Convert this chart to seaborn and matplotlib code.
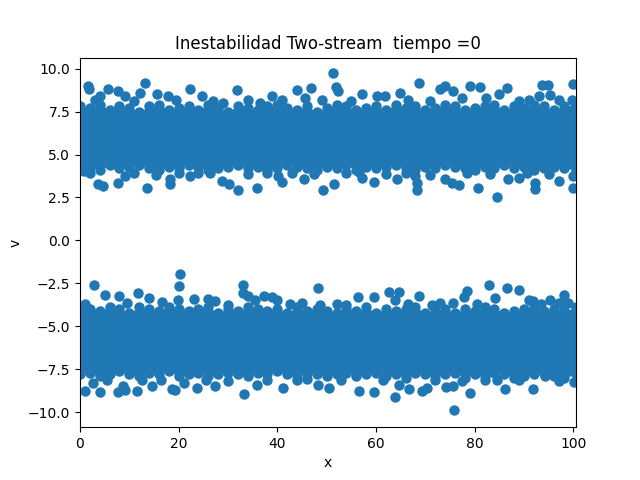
import numpy as np
import pandas as pd
import matplotlib
matplotlib.use("Agg")
import matplotlib.pyplot as plt
import seaborn as sns

# ---- data ----
# dense core of each beam: centre of the outermost markers along x
edge_x = [0, 2, 4, 6, 8, 10, 12, 14, 16, 18, 20, 22, 24, 26, 28, 30, 32, 34, 36, 38,
          40, 42, 44, 46, 48, 50, 52, 54, 56, 58, 60, 62, 64, 66, 68, 70, 72, 74, 76, 78,
          80, 82, 84, 86, 88, 90, 92, 94, 96, 98, 100.5]
top_hi = [7.8, 7.7, 7.9, 7.6, 7.8, 7.7, 7.5, 7.8, 7.9, 7.6, 7.7, 7.8, 7.6, 7.9, 7.7, 7.5, 7.8,
          7.7, 7.6, 7.8, 7.9, 7.7, 7.6, 7.8, 7.5, 7.7, 7.9, 7.8, 7.6, 7.7, 7.8, 7.6, 7.9, 7.7,
          7.8, 7.6, 7.7, 7.9, 7.8, 7.6, 7.7, 7.8, 7.9, 7.6, 7.8, 7.7, 7.9, 7.8, 7.6, 7.8, 7.9]
top_lo = [4.2, 4.3, 4.1, 4.4, 4.2, 4.3, 4.4, 4.2, 4.1, 4.3, 4.2, 4.4, 4.3, 4.1, 4.2, 4.3, 4.4,
          4.2, 4.3, 4.1, 4.2, 4.4, 4.3, 4.2, 4.1, 4.3, 4.2, 4.4, 4.1, 4.3, 4.2, 4.3, 4.4, 4.2,
          4.1, 4.3, 4.2, 4.4, 4.3, 4.2, 4.1, 4.3, 4.2, 4.4, 4.2, 4.3, 4.1, 4.2, 4.3, 4.2, 4.1]
bot_hi = [-3.9, -4.0, -4.1, -3.9, -4.0, -4.2, -3.9, -4.0, -4.1, -3.9, -4.0, -4.1, -4.0, -3.9,
          -4.2, -4.0, -4.1, -3.9, -4.0, -4.1, -4.0, -4.2, -3.9, -4.1, -4.0, -4.1, -4.2, -4.0,
          -4.1, -3.9, -4.2, -4.0, -4.1, -4.0, -3.9, -4.2, -4.1, -4.0, -4.2, -4.0, -4.1, -3.9,
          -4.0, -4.2, -4.1, -4.0, -3.9, -4.1, -4.0, -4.1, -3.9]
bot_lo = [-7.8, -7.7, -7.9, -7.8, -7.6, -7.8, -7.9, -7.7, -7.8, -7.6, -7.9, -7.8, -7.7, -7.9,
          -7.8, -7.7, -7.8, -7.9, -7.7, -7.8, -7.6, -7.8, -7.9, -7.7, -7.8, -7.9, -7.8, -7.7,
          -7.9, -7.8, -7.7, -7.9, -7.8, -8.0, -7.7, -7.8, -7.9, -7.8, -7.7, -8.0, -7.8, -7.9,
          -7.7, -7.8, -8.0, -7.9, -7.8, -7.7, -7.9, -8.0, -7.8]

# scattered particles outside the dense core
top_up_x = [1.7, 1.8, 5.7, 7.8, 13.2, 12.2, 15.6, 22.3, 17.9, 31.8, 43.9, 46.9, 51.2, 51.8,
            52.2, 3.0, 4.1, 9.1, 24.7, 38.9, 45.6, 68.8, 64.9, 73.0, 74.0, 75.7, 79.0, 81.1,
            86.5, 84.9, 93.6, 94.9, 99.9, 95.3, 93.0, 57.1, 60.2, 61.9, 82.2, 99.7,
            27, 34, 36.5, 41, 49, 55, 66.5, 71, 77.5, 89, 91, 97, 11, 19.5, 29]
top_up_v = [9.0, 8.8, 8.8, 8.7, 9.14, 8.6, 8.55, 8.8, 8.4, 8.75, 8.75, 8.86, 9.72, 8.94,
            8.67, 8.2, 8.4, 8.4, 8.4, 8.4, 8.3, 9.19, 8.6, 8.8, 9.0, 8.7, 8.96, 8.9,
            8.86, 8.5, 9.04, 9.04, 9.1, 8.47, 8.41, 8.5, 8.4, 8.4, 8.3, 8.2,
            8.1, 8.2, 8.0, 8.15, 8.2, 8.1, 8.2, 8.1, 8.3, 8.1, 8.2, 8.15, 8.1, 8.2, 8.0]
top_dn_x = [0.9, 3.7, 4.7, 7.8, 9.1, 13.5, 18.3, 18.3, 22.3, 26.4, 28.7, 30.1, 32.1, 35.8,
            40.2, 40.9, 45.3, 49.3, 51.5, 56.5, 57.1, 59.5, 64.2, 68.3, 68.3, 68.0, 74.0,
            75.4, 76.9, 80.6, 84.5, 86.7, 88.9, 92.2, 92.3, 97.0, 99.9, 99.9,
            2, 11, 15.5, 20, 24, 34, 38, 43, 47.5, 54, 62, 66, 71, 78.5, 83, 90.5, 95]
top_dn_v = [4.04, 3.27, 3.17, 3.36, 3.75, 3.07, 3.56, 3.3, 3.75, 3.95, 3.46, 3.3, 2.92, 3.03,
            3.75, 3.42, 3.56, 2.92, 3.27, 4.0, 3.66, 3.42, 3.56, 2.92, 3.36, 3.75, 3.56,
            3.36, 3.2, 3.07, 2.55, 3.56, 3.66, 2.97, 3.36, 3.46, 3.07, 3.75,
            3.9, 3.9, 3.8, 3.95, 3.9, 3.85, 3.95, 3.9, 3.85, 3.9, 3.85, 3.9, 3.8, 3.9, 3.85,
            3.9, 3.85]
bot_up_x = [20.3, 20.1, 2.9, 5.1, 7.9, 11.8, 13.9, 23.2, 26.0, 27.4, 33.0, 33.1, 34.1, 35.5,
            37.2, 38.9, 39.9, 48.3, 48.7, 19.9, 16.6, 56.3, 59.5, 62.7, 64.6, 63.9, 68.8,
            78.4, 77.8, 82.8, 86.5, 88.9, 84.2, 91.1, 91.9, 95.3, 98.2, 99.0, 75.7, 71.3,
            1, 9.5, 30, 42.5, 45, 52, 54, 66.5, 73, 80.5, 93.5, 97]
bot_up_v = [-1.98, -2.66, -2.62, -3.2, -3.25, -3.05, -3.34, -3.4, -3.4, -3.54, -2.62, -3.05,
            -3.25, -3.48, -3.25, -3.28, -3.44, -2.76, -3.73, -3.44, -3.6, -3.3, -3.3, -2.99,
            -2.99, -3.44, -3.25, -2.92, -3.28, -2.57, -2.76, -2.9, -3.34, -3.44, -3.54, -3.44,
            -3.15, -3.63, -3.63, -3.73,
            -3.7, -3.65, -3.75, -3.7, -3.65, -3.7, -3.75, -3.7, -3.65, -3.7, -3.7, -3.65]
bot_dn_x = [1.0, 4.1, 2.7, 7.8, 8.8, 9.1, 11.5, 14.5, 18.6, 19.3, 23.7, 27.4, 33.3, 35.8,
            41.2, 48.2, 50.4, 21.0, 56.5, 59.5, 63.9, 64.7, 66.6, 69.3, 70.3, 74.2, 75.7,
            75.9, 79.1, 86.2, 91.9, 100.1, 94.3,
            5.5, 12.5, 16.5, 25.5, 30, 38, 44, 46, 53, 61.5, 72, 77.5, 82, 84.5, 89, 97]
bot_dn_v = [-8.75, -8.84, -8.3, -8.84, -8.45, -8.69, -8.75, -8.5, -8.65, -8.69, -8.59, -8.5,
            -8.92, -8.4, -8.59, -8.4, -8.59, -8.3, -8.75, -8.82, -9.14, -8.4, -8.63, -8.79,
            -8.59, -8.53, -8.5, -9.85, -8.88, -8.65, -8.65, -8.26, -7.9,
            -8.1, -8.15, -8.1, -8.1, -8.2, -8.1, -8.15, -8.05, -8.1, -8.15, -8.1, -8.2, -8.1,
            -8.15, -8.1, -8.2]

color = "#1f77b4"

xs = (edge_x * 4) + top_up_x + top_dn_x + bot_up_x + bot_dn_x
vs = top_hi + top_lo + bot_hi + bot_lo + top_up_v + top_dn_v + bot_up_v + bot_dn_v
df = pd.DataFrame({"x": xs, "v": vs})

fig, ax = plt.subplots(figsize=(6.4, 4.8), dpi=100)
ax.fill_between(edge_x, top_lo, top_hi, color=color, linewidth=0)
ax.fill_between(edge_x, bot_lo, bot_hi, color=color, linewidth=0)
sns.scatterplot(data=df, x="x", y="v", s=36, color=color, edgecolor=color,
                linewidth=1.5, ax=ax)

ax.set_xlim(0, 32 * np.pi)
ax.set_ylim(-10.87, 10.64)
ax.set_xlabel("x")
ax.set_ylabel("v")
ax.set_title("Inestabilidad Two-stream  tiempo =0")

fig.savefig("out.png", dpi=100)
